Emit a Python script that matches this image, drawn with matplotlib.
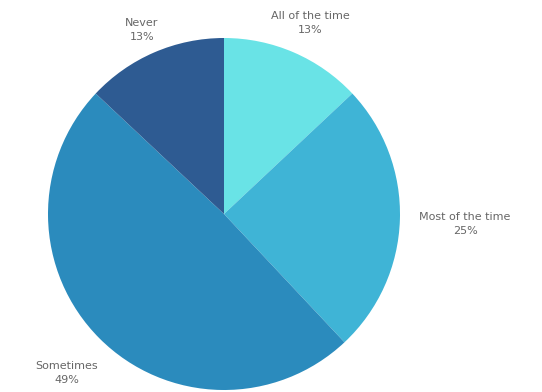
import matplotlib
matplotlib.use("Agg")
import matplotlib.pyplot as plt

labels = ["All of the time", "Most of the time", "Sometimes", "Never"]
values = [13, 25, 49, 13]
colors = ["#69e3e6", "#3fb4d6", "#2b8bbd", "#2e5b92"]

plt.rcParams['font.family'] = ['DejaVu Sans']

fig = plt.figure(figsize=(5.42, 3.92), dpi=100)
ax = fig.add_axes([0, 0, 1, 1])
ax.pie(values, colors=colors, startangle=90, counterclock=False,
       radius=1, center=(0, 0), frame=True)
ax.set_xlim(-224 / 176, (542 - 224) / 176)
ax.set_ylim(-(392 - 214) / 176, 214 / 176)
ax.axis("off")

# label positions in pie units (pixel-derived)
label_pos = [(310, 23), (465, 224), (67, 373), (142, 30)]
for lab, v, (px, py) in zip(labels, values, label_pos):
    x = (px - 224) / 176
    y = (214 - py) / 176
    ax.text(x, y, f"{lab}\n{v}%", ha="center", va="center",
            fontsize=8, color="#666666", linespacing=1.45)

fig.savefig("out.png", dpi=100)
